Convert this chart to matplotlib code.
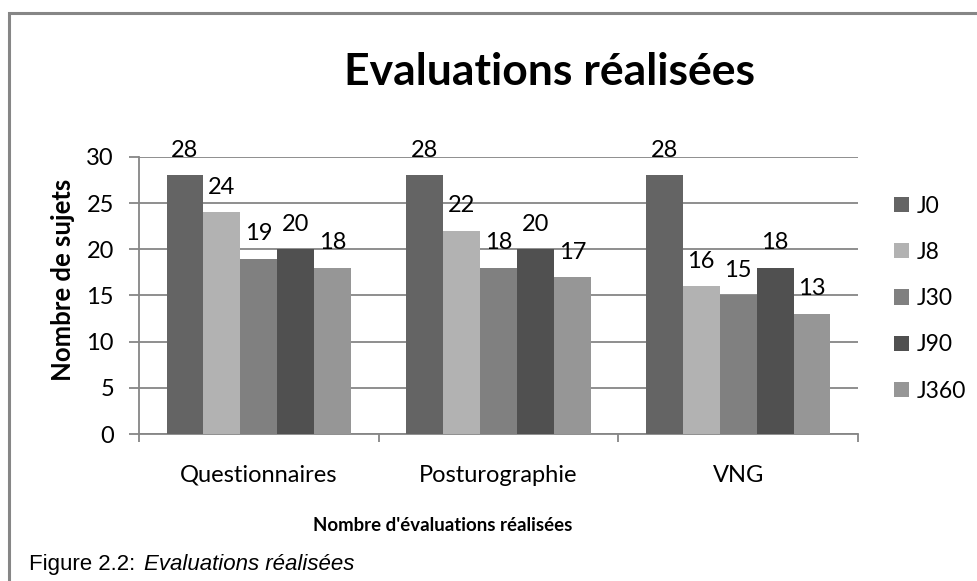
import numpy as np
import matplotlib
matplotlib.use("Agg")
from matplotlib import pyplot as plt
from matplotlib.patches import Rectangle

categories = ["Questionnaires", "Posturographie", "VNG"]
series = ["J0", "J8", "J30", "J90", "J360"]
J0 = [28, 28, 28]
J8 = [24, 22, 16]
J30 = [19, 18, 15]
J90 = [20, 20, 18]
J360 = [18, 17, 13]
values = [J0, J8, J30, J90, J360]
colors = ["#646464", "#b2b2b2", "#808080", "#505050", "#969696"]

plt.rcParams['font.family'] = ['Lato', 'DejaVu Sans']

fig = plt.figure(figsize=(9.78, 5.81), dpi=100)
ax = fig.add_axes([0.1421, 0.2530, 0.7352, 0.4768])

x = np.arange(len(categories))
w = 0.77 / len(series)
for i, (name, vals, c) in enumerate(zip(series, values, colors)):
    pos = x + (i - 2) * w
    bars = ax.bar(pos, vals, w, color=c, label=name, zorder=3)
    for b, v in zip(bars, vals):
        ax.annotate(str(v), (b.get_x() + b.get_width() / 2, v), xytext=(0, 18),
                    textcoords="offset points", ha="center", va="center",
                    fontsize=17, color="black")

ax.set_xlim(-0.5, 2.5)
ax.set_ylim(0, 30)
ax.set_yticks(range(0, 31, 5))
ax.yaxis.grid(True, color="#868686", linewidth=1.3, zorder=0)
ax.set_axisbelow(True)
for s in ["top", "right"]:
    ax.spines[s].set_visible(False)
for s in ["left", "bottom"]:
    ax.spines[s].set_color("#868686")
    ax.spines[s].set_linewidth(1.3)
ax.set_xticks(x)
ax.set_xticklabels(categories)
ax.tick_params(axis="x", length=0, pad=22, labelsize=17)
ax.set_xticks([-0.5, 0.5, 1.5, 2.5], minor=True)
ax.tick_params(axis="x", which="minor", length=6, width=1.3, color="#868686")
ax.tick_params(axis="y", length=7, width=1.3, color="#868686", labelsize=17, pad=11)

# y label placed by hand: Excel puts it a bit above the axis middle
fig.text(0.0645, 0.518, "Nombre de sujets", rotation=90, ha="center", va="center",
         fontsize=18.5, fontweight="bold")
fig.text(0.453, 0.096, "Nombre d'évaluations réalisées", ha="center", va="center",
         fontsize=13.4, fontweight="bold")
fig.text(0.562, 0.854, "Evaluations réalisées", ha="center", va="baseline",
         fontsize=32, fontweight="bold")

leg = fig.legend(loc="upper left", bbox_to_anchor=(0.905, 0.679), frameon=False,
                 fontsize=16.5, handlelength=0.65, handleheight=0.65, labelspacing=1.1,
                 handletextpad=0.35, borderaxespad=0)

cap1 = fig.text(0.03, 0.019, "Figure 2.2: ", ha="left", va="baseline", fontsize=16,
                family="Liberation Sans")
fig.canvas.draw()
bb = cap1.get_window_extent()
fig.text(bb.x1 / fig.bbox.width + 0.002, 0.019, "Evaluations réalisées", ha="left",
         va="baseline", fontsize=16, family="Liberation Sans", style="italic")

frame = Rectangle((0.009, -0.1), 1.1, 1.077, transform=fig.transFigure,
                  fill=False, edgecolor="#868686", linewidth=2.2, clip_on=False)
fig.patches.append(frame)

fig.savefig("out.png", dpi=100)
